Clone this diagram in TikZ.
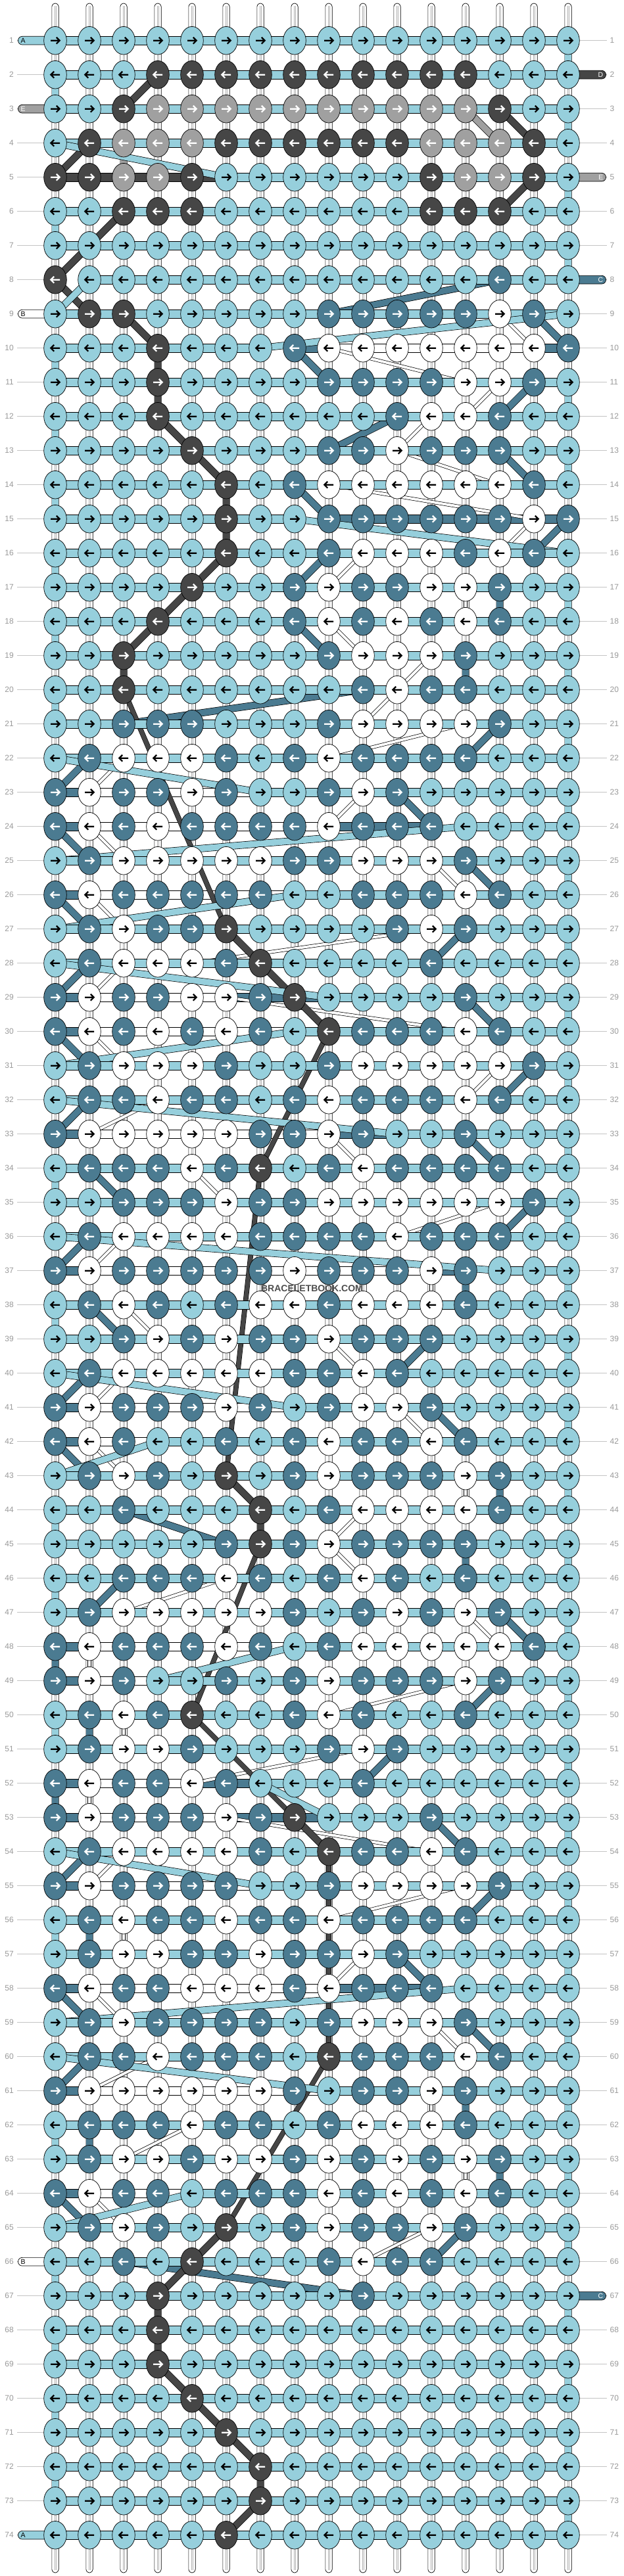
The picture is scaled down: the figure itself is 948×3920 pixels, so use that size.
\documentclass[tikz,border=0pt]{standalone}
\usepackage{fontspec}
\setmainfont{Liberation Sans}
\definecolor{kL}{HTML}{96CFDC}
\definecolor{kD}{HTML}{464646}
\definecolor{kG}{HTML}{A0A0A0}
\definecolor{kT}{HTML}{4B7B91}
\definecolor{kW}{HTML}{FFFFFF}
\colorlet{aL}{black}\colorlet{aW}{black}\colorlet{aD}{white}\colorlet{aG}{white}\colorlet{aT}{white}
\definecolor{numgray}{HTML}{9A9A9A}
\definecolor{linegray}{HTML}{C4C4C4}
\definecolor{strandgray}{HTML}{B0B0B0}
\definecolor{wmark}{HTML}{4D4D4D}
\def\bwG{9.5pt}\def\bwT{9.5pt}\def\bwW{4pt}\def\bwD{9.5pt}\def\bwL{9.5pt}
\tikzset{
  knotshape/.style={draw=black, line width=0.7pt},
  barshape/.style={draw=black, line width=0.7pt},
  band/.style={draw=black, line width=0.7pt, double=#1},
  longband/.style={draw=black, line width=0.6pt, double=#1, double distance=6.5pt},
  arrowline/.style={line width=2.2pt},
  rownum/.style={text=numgray, font=\fontsize{12}{12}\selectfont, inner sep=0pt},
  tabletter/.style={font=\fontsize{10.5}{10.5}\selectfont, inner sep=0pt},
  labelline/.style={draw=linegray, line width=1pt},
  vstring/.style={draw=black, fill=white, line width=0.7pt, rounded corners=5pt},
}
\def\knotrows{%
{L,L,L,L,L,L,L,L,L,L,L,L,L,L,L,L},%1
{L,L,L,D,D,D,D,D,D,D,D,D,D,L,L,L},%2
{L,L,D,G,G,G,G,G,G,G,G,G,G,D,L,L},%3
{L,D,G,G,G,D,D,D,D,D,D,G,G,G,D,L},%4
{D,D,G,G,D,L,L,L,L,L,L,D,G,G,D,L},%5
{L,L,D,D,D,L,L,L,L,L,L,D,D,D,L,L},%6
{L,L,L,L,L,L,L,L,L,L,L,L,L,L,L,L},%7
{D,L,L,L,L,L,L,L,L,L,L,L,L,T,L,L},%8
{L,D,D,L,L,L,L,L,T,T,T,T,T,W,T,L},%9
{L,L,L,D,L,L,L,T,W,W,W,W,W,W,W,T},%10
{L,L,L,D,L,L,L,L,T,T,T,T,W,W,T,L},%11
{L,L,L,D,L,L,L,L,L,L,T,W,W,T,L,L},%12
{L,L,L,L,D,L,L,L,T,T,W,T,T,T,L,L},%13
{L,L,L,L,L,D,L,T,W,W,W,W,W,W,T,L},%14
{L,L,L,L,L,D,L,L,T,T,T,T,T,T,W,T},%15
{L,L,L,L,L,D,L,L,T,W,W,W,T,W,T,L},%16
{L,L,L,L,D,L,L,T,W,T,T,W,W,T,L,L},%17
{L,L,L,D,L,L,L,T,W,T,W,T,W,T,L,L},%18
{L,L,D,L,L,L,L,L,T,W,W,W,T,L,L,L},%19
{L,L,D,L,L,L,L,L,L,T,W,T,T,L,L,L},%20
{L,L,T,T,T,L,L,L,T,W,W,W,W,T,L,L},%21
{L,T,W,W,W,T,L,T,W,T,T,T,T,L,L,L},%22
{T,W,T,T,W,T,L,L,T,W,T,L,L,L,L,L},%23
{T,W,T,W,T,T,T,T,W,T,T,T,L,L,L,L},%24
{L,T,W,W,W,W,W,T,T,W,W,W,T,L,L,L},%25
{T,W,T,T,T,T,T,L,L,T,T,T,W,T,L,L},%26
{L,T,W,T,T,D,L,L,L,L,T,W,T,L,L,L},%27
{L,T,W,W,W,T,D,L,L,L,L,T,L,L,L,L},%28
{T,W,T,T,W,W,T,D,L,L,L,L,T,L,L,L},%29
{T,W,T,W,T,W,T,L,D,T,T,T,W,T,L,L},%30
{L,T,W,W,W,T,L,L,T,W,W,W,W,W,T,L},%31
{L,T,T,W,T,T,L,T,W,T,T,T,W,T,L,L},%32
{T,W,W,W,W,W,T,T,W,T,L,L,T,L,L,L},%33
{L,T,T,T,W,T,D,L,T,W,T,T,T,T,L,L},%34
{L,L,T,T,T,W,T,T,W,W,W,W,W,W,T,L},%35
{L,T,W,W,W,W,T,T,T,T,W,T,T,T,L,L},%36
{T,W,T,T,T,T,T,W,T,T,T,W,T,L,L,L},%37
{L,T,W,T,L,T,W,W,T,W,W,W,T,L,L,L},%38
{L,L,T,W,T,W,T,T,W,T,T,T,L,L,L,L},%39
{L,T,W,W,W,W,W,T,T,W,T,L,L,L,L,L},%40
{T,W,T,T,T,W,T,L,T,W,W,T,L,L,L,L},%41
{T,W,T,L,L,T,L,T,W,T,T,W,T,L,L,L},%42
{L,T,W,T,L,D,L,T,W,T,T,T,W,T,L,L},%43
{L,L,T,L,L,L,D,L,T,W,W,W,W,T,L,L},%44
{L,L,L,L,L,T,D,T,W,T,T,T,T,L,L,L},%45
{L,L,T,T,T,W,T,L,T,W,T,L,T,L,L,L},%46
{L,T,W,W,W,W,W,T,L,T,W,T,W,T,L,L},%47
{T,W,T,T,T,W,T,L,T,W,W,W,W,W,T,L},%48
{T,W,T,L,L,T,L,T,W,T,T,T,W,T,L,L},%49
{L,T,W,T,D,L,L,T,W,T,L,L,T,L,L,L},%50
{L,T,W,W,T,L,L,L,T,W,T,L,L,L,L,L},%51
{T,W,T,T,W,T,L,L,L,T,L,L,L,L,L,L},%52
{T,W,T,T,T,W,T,D,L,L,L,T,L,L,L,L},%53
{L,T,W,W,W,W,T,L,D,T,T,W,T,L,L,L},%54
{T,W,T,T,T,T,L,L,T,W,W,W,W,T,L,L},%55
{L,T,W,T,T,W,T,T,W,T,T,T,T,L,L,L},%56
{L,T,W,W,T,T,W,T,T,W,T,L,L,L,L,L},%57
{T,W,T,T,W,W,W,T,W,T,T,T,L,L,L,L},%58
{L,T,W,T,T,T,T,L,T,W,W,W,T,L,L,L},%59
{L,T,T,W,T,T,T,L,D,T,T,T,W,T,L,L},%60
{T,W,W,W,W,W,W,T,L,T,T,W,T,L,L,L},%61
{L,T,T,T,W,T,T,L,T,W,W,W,T,L,L,L},%62
{L,T,W,W,T,W,W,T,W,T,W,T,W,T,L,L},%63
{T,W,T,T,L,T,T,T,W,T,W,T,W,T,L,L},%64
{L,T,W,T,L,D,L,T,W,T,T,W,T,L,L,L},%65
{L,L,T,L,D,L,L,L,T,W,T,T,L,L,L,L},%66
{L,L,L,D,L,L,L,L,L,T,L,L,L,L,L,L},%67
{L,L,L,D,L,L,L,L,L,L,L,L,L,L,L,L},%68
{L,L,L,D,L,L,L,L,L,L,L,L,L,L,L,L},%69
{L,L,L,L,D,L,L,L,L,L,L,L,L,L,L,L},%70
{L,L,L,L,L,D,L,L,L,L,L,L,L,L,L,L},%71
{L,L,L,L,L,L,D,L,L,L,L,L,L,L,L,L},%72
{L,L,L,L,L,L,D,L,L,L,L,L,L,L,L,L},%73
{L,L,L,L,L,D,L,L,L,L,L,L,L,L,L,L}%74
}
% store knot colours
\foreach \rowlist [count=\r] in \knotrows {
  \foreach \c [count=\k] in \rowlist {
    \expandafter\xdef\csname kc-\r-\k\endcsname{\c}
  }
}
\begin{document}
\begin{tikzpicture}[x=1pt,y=-1pt]
\useasboundingbox (0,0) rectangle (948,3920);
\fill[white] (0,0) rectangle (948,3920);
% grid coordinates
\foreach \r in {1,...,74}{
  \pgfmathsetmacro\yy{61.7+52*(\r-1)}
  \foreach \k in {1,...,16}{
    \pgfmathsetmacro\xx{84+52*(\k-1)}
    \coordinate (n-\r-\k) at (\xx,\yy);
  }
}
\foreach \k in {1,...,16}{
  \pgfmathsetmacro\xx{84+52*(\k-1)}
  \coordinate (top-\k) at (\xx,5);
  \coordinate (bot-\k) at (\xx,3915);
}
% vertical base strings
\foreach \k in {1,...,16}{
  \draw[vstring] ([xshift=-5.15pt]top-\k) rectangle ([xshift=5.15pt]bot-\k);
  \draw[strandgray, line width=0.5pt] ([xshift=-1.2pt,yshift=-4pt]top-\k) -- ([xshift=-1.2pt,yshift=4pt]bot-\k);
  \draw[strandgray, line width=0.5pt] ([xshift=1.2pt,yshift=-4pt]top-\k) -- ([xshift=1.2pt,yshift=4pt]bot-\k);
}
% working threads, followed knot by knot in tying order
\foreach \col in {G,T,W,D,L}{
  \xdef\lastr{0}\xdef\lastc{0}
  \edef\cx{\col}
  \foreach \r in {1,...,74}{
    \ifodd\r\relax \def\klist{1,...,16}\else \def\klist{16,15,...,1}\fi
    \foreach \k in \klist {
      \edef\cc{\csname kc-\r-\k\endcsname}
      \ifx\cc\cx
        \ifnum\lastr>0
          \ifnum\lastr=\r
            \draw[barshape, fill=k\col] ([yshift=6.35pt]n-\r-\lastc) rectangle ([yshift=-6.35pt]n-\r-\k);
          \else
            \pgfmathtruncatemacro\rowgap{\r-\lastr}
            \ifnum\rowgap>2
              \draw[longband=k\col] (n-\lastr-\lastc) -- (n-\r-\k);
            \else
              \edef\bwidth{\csname bw\col\endcsname}
              \draw[band=k\col, double distance=\bwidth] (n-\lastr-\lastc) -- (n-\r-\k);
            \fi
          \fi
        \fi
        \xdef\lastr{\r}\xdef\lastc{\k}
      \fi
    }
  }
}
% row numbers and guide lines
\foreach \r in {1,...,74}{
  \pgfmathsetmacro\yy{61.7+52*(\r-1)}
  \node[rownum, anchor=east] (ln-\r) at (21,\yy) {\r};
  \node[rownum, anchor=west] (rn-\r) at (927.5,\yy) {\r};
  \draw[labelline] ([xshift=5pt]ln-\r.east) -- ([xshift=-17.5pt]n-\r-1);
  \draw[labelline] ([xshift=17.5pt]n-\r-16) -- ([xshift=-5pt]rn-\r.west);
}
% thread tabs (left)
\foreach \r/\col/\lt/\lc in {1/kL/A/black,3/kG/E/white,9/kW/B/black,66/kW/B/black,74/kL/A/black}{
  \draw[barshape, fill=\col, rounded corners=6.3pt] ([xshift=-56.5pt,yshift=6.35pt]n-\r-1) rectangle ([xshift=6pt,yshift=-6.35pt]n-\r-1);
  \node[tabletter, text=\lc, anchor=west] (tl-\r) at ([xshift=-52.5pt]n-\r-1) {\lt};
}
% thread tabs (right)
\foreach \r/\col/\lt/\lc in {2/kD/D/white,5/kG/E/white,8/kT/C/white,67/kT/C/white}{
  \draw[barshape, fill=\col, rounded corners=6.3pt] ([xshift=-6pt,yshift=6.35pt]n-\r-16) rectangle ([xshift=57.5pt,yshift=-6.35pt]n-\r-16);
  \node[tabletter, text=\lc, anchor=east] (tr-\r) at ([xshift=53.5pt]n-\r-16) {\lt};
}
% knots
\foreach \r in {1,...,74}{
  \pgfmathsetmacro\dir{1-2*mod(\r+1,2)}
  \foreach \k in {1,...,16}{
    \edef\c{\csname kc-\r-\k\endcsname}
    \filldraw[knotshape, fill=k\c] (n-\r-\k) ellipse [x radius=17.3, y radius=21.3];
    \begin{scope}[shift={(n-\r-\k)}, xscale=\dir]
      \draw[arrowline, draw=a\c] (-7,0) -- (6,0) (1.8,-4.9) -- (6.7,0) -- (1.8,4.9);
    \end{scope}
  }
}
\node[font=\bfseries\fontsize{14}{14}\selectfont, text=wmark, inner sep=0pt, anchor=base] (wm) at (474.5,1965) {BRACELETBOOK.COM};
\end{tikzpicture}
\end{document}
